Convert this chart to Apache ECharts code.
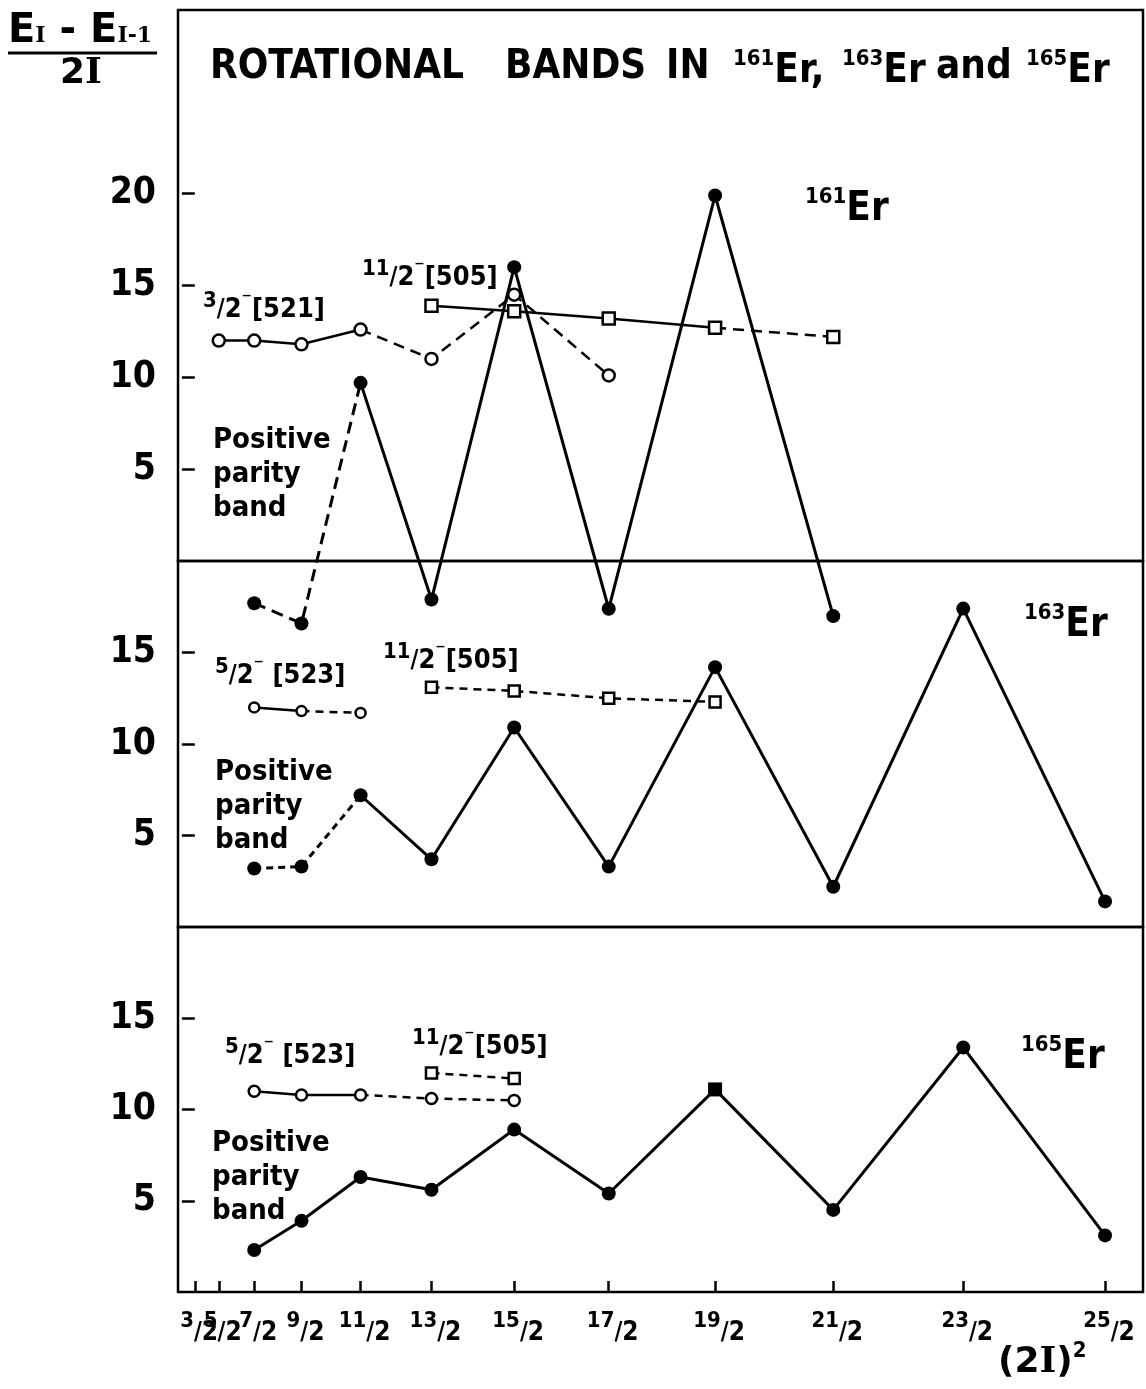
<!DOCTYPE html>
<html><head><meta charset="utf-8">
<script src="https://cdn.jsdelivr.net/npm/echarts@6/dist/echarts.min.js"></script>
<style>html,body{margin:0;padding:0;background:#fff}#c{width:1146px;height:1389px}</style>
</head><body><div id="c"></div>
<script>
// ---- data ----
// x positions: spin numerators (2I), plotted on a (2I)^2 axis
const tickSpins = [3,5,7,9,11,13,15,17,19,21,23,25];
const tickLabels = ['3/2','5/2','7/2','9/2','11/2','13/2','15/2','17/2','19/2','21/2','23/2','25/2'];
const yTicksTop = [5,10,15,20];
const yTicksLow = [5,10,15];

// 161Er
const er161_521_spin = [5,7,9,11,13,15,17];
const er161_521_val  = [12.0,12.0,11.8,12.6,11.0,14.5,10.1];
const er161_505_spin = [13,15,17,19,21];
const er161_505_val  = [13.9,13.6,13.2,12.7,12.2];
const er161_pos_spin = [7,9,11,13,15,17,19,21];
const er161_pos_val  = [-2.3,-3.4,9.7,-2.1,16.0,-2.6,19.9,-3.0];
// 163Er
const er163_523_spin = [7,9,11];
const er163_523_val  = [12.0,11.8,11.7];
const er163_505_spin = [13,15,17,19];
const er163_505_val  = [13.1,12.9,12.5,12.3];
const er163_pos_spin = [7,9,11,13,15,17,19,21,23,25];
const er163_pos_val  = [3.2,3.3,7.2,3.7,10.9,3.3,14.2,2.2,17.4,1.4];
// 165Er
const er165_523_spin = [7,9,11,13,15];
const er165_523_val  = [11.0,10.8,10.8,10.6,10.5];
const er165_505_spin = [13,15];
const er165_505_val  = [12.0,11.7];
const er165_pos_spin = [7,9,11,13,15,17,19,21,23,25];
const er165_pos_val  = [2.3,3.9,6.3,5.6,8.9,5.4,11.1,4.5,13.4,3.1];

// ---- rendering ----
const FONT = "'DejaVu Sans Condensed','DejaVu Sans',sans-serif";
const chart = echarts.init(document.getElementById('c'), null, {renderer:'canvas'});
const series = [];

function band(grid, spins, vals, segs, kind, opts) {
  opts = opts || {};
  const pts = spins.map((n,i)=>[n*n, vals[i]]);
  segs.forEach(([a,b,dashed])=>{
    series.push({
      type:'line', xAxisIndex:grid, yAxisIndex:grid, clip:false, symbol:'none',
      data: pts.slice(a,b+1), z:3, silent:true,
      lineStyle:{color:'#000', width: kind==='pos' ? 3 : 2.5, opacity:1,
        type: dashed ? (opts.dash || [11,7]) : 'solid'}
    });
  });
  let sym, size, fill;
  if (kind==='pos') { sym='circle'; size=14; fill='#000'; }
  else if (kind==='circ') { sym='circle'; size=opts.size||11; fill='#fff'; }
  else { sym='rect'; size=opts.size||11; fill='#fff'; }
  series.push({
    type:'scatter', xAxisIndex:grid, yAxisIndex:grid, clip:false, z:5, silent:true,
    symbol:sym, symbolSize:size,
    itemStyle:{color:fill, opacity:1, borderColor:'#000', borderWidth: kind==='pos'?0:2.5},
    data: pts.map((p,i)=> (opts.special && opts.special[i]) ? {value:p, symbol:opts.special[i], symbolSize:14} : p)
  });
}

band(0, er161_521_spin, er161_521_val, [[0,3,false],[3,6,true]], 'circ', {size:12});
band(0, er161_505_spin, er161_505_val, [[0,3,false],[3,4,true]], 'sq', {size:12});
band(0, er161_pos_spin, er161_pos_val, [[0,2,true],[2,7,false]], 'pos', {dash:[12,7]});
band(1, er163_523_spin, er163_523_val, [[0,1,false],[1,2,true]], 'circ', {size:10, dash:[8,6]});
band(1, er163_505_spin, er163_505_val, [[0,3,true]], 'sq', {size:11, dash:[8,6]});
band(1, er163_pos_spin, er163_pos_val, [[0,2,true],[2,9,false]], 'pos', {dash:[7,5]});
band(2, er165_523_spin, er165_523_val, [[0,2,false],[2,4,true]], 'circ', {size:11, dash:[8,6]});
band(2, er165_505_spin, er165_505_val, [[0,1,true]], 'sq', {size:11, dash:[8,6]});
band(2, er165_pos_spin, er165_pos_val, [[0,9,false]], 'pos', {special:{6:'rect'}});

const tickX = tickSpins.map(n=>n*n);
const tickXA = tickX.filter((v,i)=>i%2===0);
const tickXB = tickX.filter((v,i)=>i%2===1);
const gridBase = {left:178, width:965, show:true, borderColor:'#000', borderWidth:2.5, backgroundColor:'transparent'};
const grids = [
  Object.assign({top:10, height:551}, gridBase),
  Object.assign({top:561, height:366}, gridBase),
  Object.assign({top:927, height:365}, gridBase)
];
const XMIN = -2.6, XMAX = 650.7;
const xRich = {
  n:{fontSize:22, fontWeight:'bold', fontFamily:FONT, color:'#000', verticalAlign:'top', padding:[0,0,0,8]},
  s:{fontSize:24, fontWeight:'bold', fontFamily:FONT, color:'#000', lineHeight:46, verticalAlign:'middle'},
  d:{fontSize:26, fontWeight:'bold', fontFamily:FONT, color:'#000'}
};
function xAx(grid, vals) {
  const show = !!vals;
  return {
    type:'value', gridIndex:grid, min:XMIN, max:XMAX, position:'bottom', offset:0,
    axisLine:{show:false}, splitLine:{show:false},
    axisTick:{show:show, inside:true, length:11, customValues:vals||[], lineStyle:{color:'#000', width:2.5}},
    axisLabel:{show:show, customValues:vals||[], margin:18, showMinLabel:true, showMaxLabel:true, hideOverlap:false,
      formatter:(v)=>{
        const k = tickX.indexOf(Math.round(v));
        if (k<0) return '';
        const num = tickLabels[k].split('/')[0];
        return '{n|'+num+'}{s|/}{d|2}';
      },
      rich:xRich
    }
  };
}
function yAx(i, max, ticks) {
  return {
    type:'value', gridIndex:i, min:0, max:max,
    axisLine:{show:false}, splitLine:{show:false},
    axisTick:{show:true, inside:true, length:13, customValues:ticks, lineStyle:{color:'#000', width:2.5}},
    axisLabel:{customValues:ticks, margin:22, fontSize:37, fontWeight:'bold', fontFamily:FONT, color:'#000'}
  };
}

const T = (o)=>Object.assign({fontFamily:FONT, fontWeight:'bold', fill:'#000'}, o);
function bandLabel(x, y, num, code, gap) {
  return {type:'text', left:x, top:y, z:10, silent:true, style:T({
    text:'{n|'+num+'}{s|/}{d|2}{m|⁻}{b|'+(gap?' ':'')+'['+code+']}',
    rich:{
      n:{fontSize:22, fontFamily:FONT, fontWeight:'bold', verticalAlign:'top'},
      s:{fontSize:24, fontFamily:FONT, fontWeight:'bold', lineHeight:40, verticalAlign:'middle'},
      d:{fontSize:27, fontFamily:FONT, fontWeight:'bold'},
      m:{fontSize:22, fontFamily:FONT, fontWeight:'bold', verticalAlign:'top'},
      b:{fontSize:27, fontFamily:FONT, fontWeight:'bold', lineHeight:40}
    }})};
}
function nuclide(x, y, mass) {
  return {type:'text', left:x, top:y, z:10, silent:true, style:T({
    text:'{a|'+mass+'}{e|Er}',
    rich:{a:{fontSize:22, fontFamily:FONT, fontWeight:'bold', verticalAlign:'top'},
          e:{fontSize:40, fontFamily:FONT, fontWeight:'bold', lineHeight:48}}})};
}
function posLabel(x, y) {
  return {type:'text', left:x, top:y, z:10, silent:true, style:T({
    text:'Positive\nparity\nband', fontSize:29, lineHeight:34})};
}
function titleWord(x, txt) {
  return {type:'text', left:x, top:48, z:10, silent:true, style:T({text:txt,
    rich:{t:{fontSize:40, fontFamily:FONT, fontWeight:'bold', lineHeight:48},
          u:{fontSize:22, fontFamily:FONT, fontWeight:'bold', verticalAlign:'top'}}})};
}

chart.setOption({
  backgroundColor:'#fff',
  animation:false,
  grid:grids,
  xAxis:[xAx(0,null), xAx(1,null), xAx(2,tickXA), xAx(2,tickXB)],
  yAxis:[yAx(0,30,yTicksTop), yAx(1,20,yTicksLow), yAx(2,20,yTicksLow)],
  series:series,
  graphic:[
    titleWord(210, '{t|ROTATIONAL}'),
    titleWord(505, '{t|BANDS}'),
    titleWord(666, '{t|IN}'),
    titleWord(733, '{u|161}{t|Er,}'),
    titleWord(842, '{u|163}{t|Er}'),
    titleWord(936, '{t|and}'),
    titleWord(1026, '{u|165}{t|Er}'),
    // y-axis quantity (fraction)
    {type:'text', left:8, top:12, z:10, silent:true, style:T({
      text:'{e|E}{i|I}{e| - E}{i|I-1}{z| }',
      rich:{e:{fontSize:40, fontFamily:"'DejaVu Sans',sans-serif", fontWeight:'bold', verticalAlign:'top', lineHeight:38},
            i:{fontSize:22, fontFamily:"'DejaVu Serif',serif", fontWeight:'bold'},
            z:{fontSize:10, lineHeight:48}}})},
    {type:'line', z:10, silent:true, shape:{x1:8, y1:53, x2:157, y2:53}, style:{stroke:'#000', lineWidth:3}},
    {type:'text', left:60, top:56, z:10, silent:true, style:T({
      text:'{a|2}{b|I}', rich:{a:{fontSize:36, fontFamily:"'DejaVu Sans',sans-serif", fontWeight:'bold'},
        b:{fontSize:36, fontFamily:"'DejaVu Serif',serif", fontWeight:'bold'}}})},
    // band labels
    bandLabel(203, 290, '3', '521', false),
    bandLabel(362, 258, '11', '505', false),
    bandLabel(215, 656, '5', '523', true),
    bandLabel(383, 641, '11', '505', false),
    bandLabel(225, 1036, '5', '523', true),
    bandLabel(412, 1027, '11', '505', false),
    posLabel(213, 423), posLabel(215, 755), posLabel(212, 1126),
    nuclide(805, 186, '161'), nuclide(1024, 602, '163'), nuclide(1021, 1034, '165'),
    {type:'text', left:998, top:1340, z:10, silent:true, style:T({
      text:'{t|(2}{s|I}{t|)}{u|2}', rich:{t:{fontSize:36, fontFamily:"'DejaVu Sans',sans-serif", fontWeight:'bold', lineHeight:46},
        s:{fontSize:36, fontFamily:"'DejaVu Serif',serif", fontWeight:'bold', lineHeight:46},
        u:{fontSize:22, fontFamily:FONT, fontWeight:'bold', verticalAlign:'top'}}})}
  ]
});
</script></body></html>
